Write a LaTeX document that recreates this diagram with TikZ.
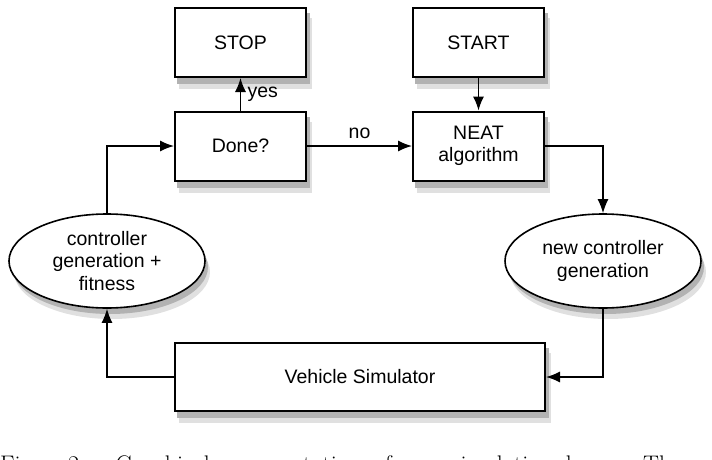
\documentclass[tikz,border=0pt]{standalone}
\usepackage{fontspec}
\usepackage{tikz}
\usetikzlibrary{shapes,backgrounds,arrows.meta}
\newfontfamily\helv{Liberation Sans}
\tikzset{simbox/.style={
    draw=black,
    line width=2pt,
    fill=white,
    font=\helv\fontsize{19.5}{22.5}\selectfont,
    align=center,
    minimum width=131pt,
    minimum height=69pt}}
\tikzset{simellipse/.style={
    simbox,
    ellipse,
    inner sep=0pt,
    line width=1.6pt,
    minimum width=196pt,
    minimum height=94pt}}
\tikzset{simedge/.style={
    draw=black,
    line width=1.4pt,
    -{Latex[length=14pt,width=11pt]}}}
\tikzset{simlabel/.style={
    font=\helv\fontsize{19.5}{22.5}\selectfont}}

\begin{document}
\begin{tikzpicture}[x=1pt,y=-1pt]
\useasboundingbox (0,0) rectangle (712,460);
\coordinate (S) at (240.5,42.5);
\coordinate (T) at (478.5,42.5);
\coordinate (D) at (240.5,146);
\coordinate (N) at (478.5,146);
\coordinate (F) at (107,261);
\coordinate (G) at (603,261);
\coordinate (V) at (360,377);

\node[simbox] (stop) at (S) {STOP};
\node[simbox] (start) at (T) {START};
\node[simbox] (done) at (D) {Done?};
\node[simbox] (neat) at (N) {NEAT\\algorithm};
\node[simellipse] (fitgen) at (F) {controller\\generation +\\fitness};
\node[simellipse] (newgen) at (G) {new controller\\generation};
\node[simbox,minimum width=370pt,minimum height=68pt] (vehicle) at (V) {Vehicle Simulator};

% soft shadows
\begin{scope}[on background layer]
\fill[black!12] ([shift={(5,11)}]stop.south west) rectangle ([shift={(5,11)}]stop.north east);
\fill[black!30] ([shift={(3,6)}]stop.south west) rectangle ([shift={(3,6)}]stop.north east);
\fill[black!12] ([shift={(5,11)}]start.south west) rectangle ([shift={(5,11)}]start.north east);
\fill[black!30] ([shift={(3,6)}]start.south west) rectangle ([shift={(3,6)}]start.north east);
\fill[black!12] ([shift={(5,11)}]done.south west) rectangle ([shift={(5,11)}]done.north east);
\fill[black!30] ([shift={(3,6)}]done.south west) rectangle ([shift={(3,6)}]done.north east);
\fill[black!12] ([shift={(5,11)}]neat.south west) rectangle ([shift={(5,11)}]neat.north east);
\fill[black!30] ([shift={(3,6)}]neat.south west) rectangle ([shift={(3,6)}]neat.north east);
\fill[black!12] ([shift={(5,11)}]vehicle.south west) rectangle ([shift={(5,11)}]vehicle.north east);
\fill[black!30] ([shift={(3,6)}]vehicle.south west) rectangle ([shift={(3,6)}]vehicle.north east);
\fill[black!12] ([shift={(5,11)}]fitgen.center) ellipse [x radius=98, y radius=47];
\fill[black!30] ([shift={(3,6)}]fitgen.center) ellipse [x radius=98, y radius=47];
\fill[black!12] ([shift={(5,11)}]newgen.center) ellipse [x radius=98, y radius=47];
\fill[black!30] ([shift={(3,6)}]newgen.center) ellipse [x radius=98, y radius=47];
\end{scope}

	\draw[simedge] (done) -- node[simlabel,right,xshift=3pt] (yes) {yes} (stop);
	\draw[simedge] (done) -- node[simlabel,above,yshift=3pt] (no) {no} (neat);
	\draw[simedge] (start) -- (neat);
	\draw[simedge] (neat.east) -| (newgen.north);
	\draw[simedge] (newgen.south) |- (vehicle.east);
	\draw[simedge] (vehicle.west) -| (fitgen.south);
	\draw[simedge] (fitgen.north) |- (done.west);

  \node[anchor=base west,inner sep=0pt,font=\fontsize{24}{28}\selectfont] (caption) at (0,472)
    {\makebox[681pt][s]{Fig. 2. Graphical representation of our simulation loop. The}};
\end{tikzpicture}
\end{document}
